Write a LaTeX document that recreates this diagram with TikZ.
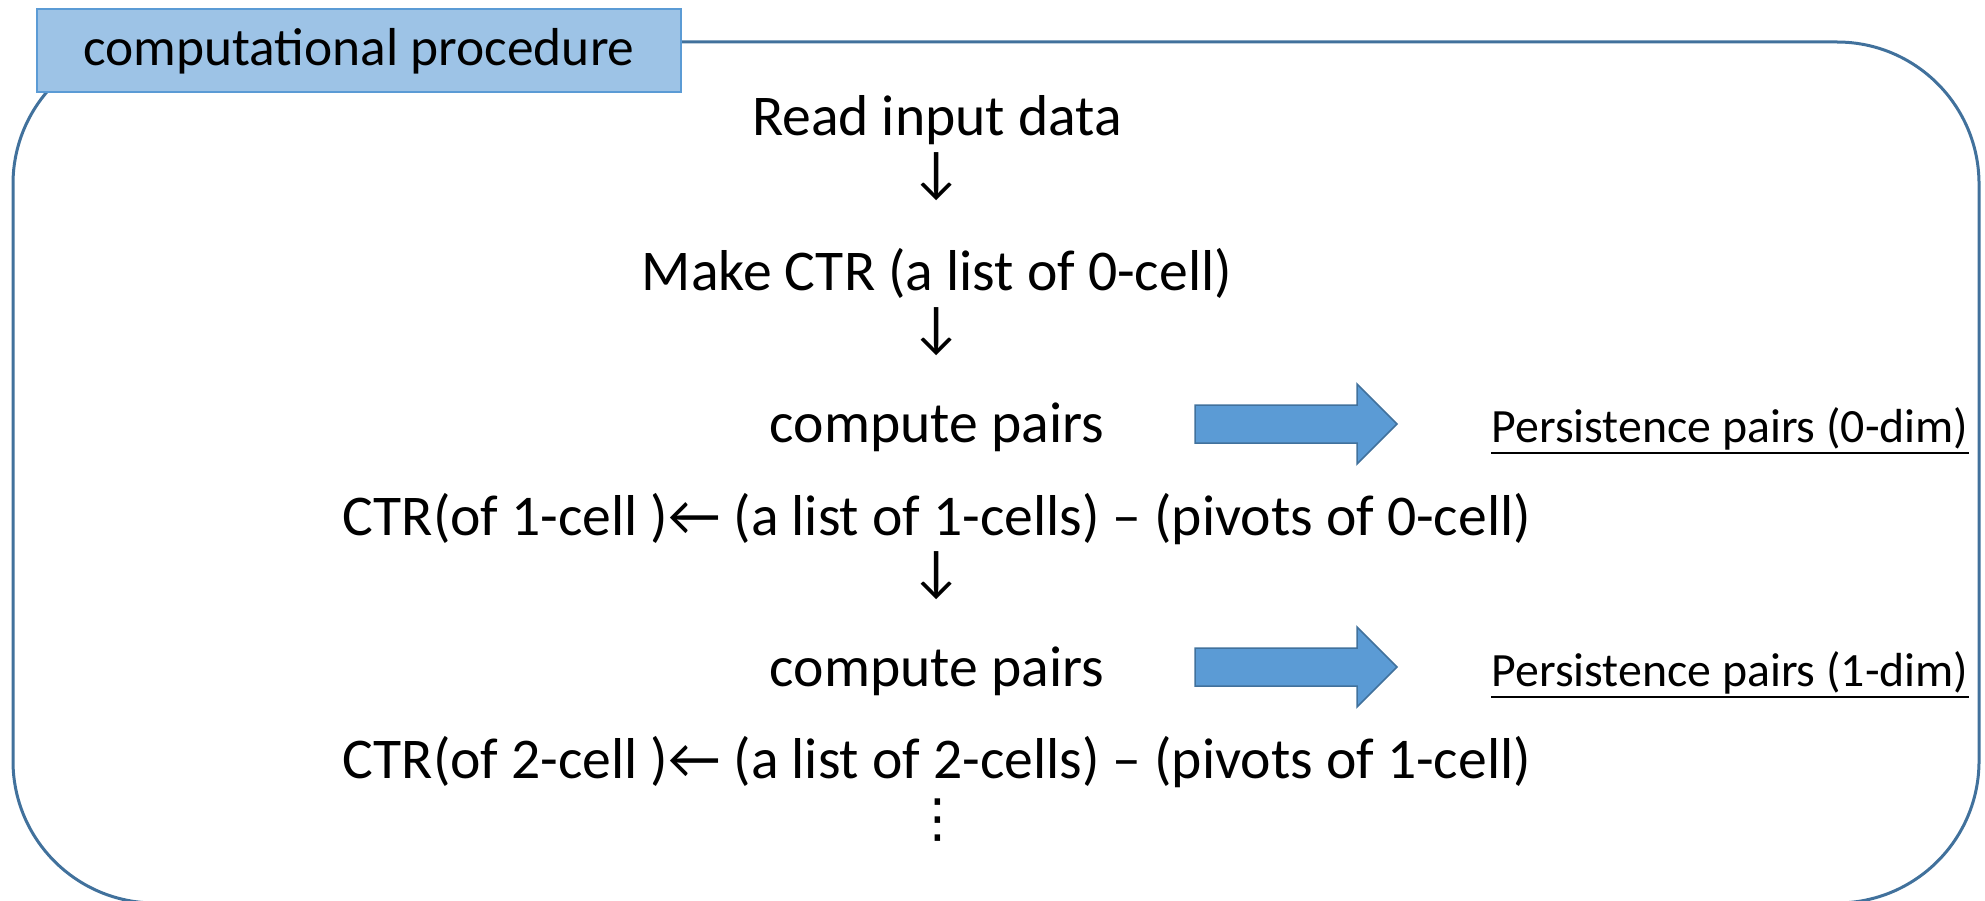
\documentclass[tikz,border=0pt]{standalone}
\usepackage{fontspec}
\setmainfont{Carlito}
\newfontfamily\symfont{DejaVu Sans}
\usetikzlibrary{positioning}
\definecolor{frameblue}{HTML}{41719C}
\definecolor{titlefill}{HTML}{9DC3E6}
\definecolor{titleline}{HTML}{5B9BD5}
\definecolor{arrowfill}{HTML}{5B9BD5}
\tikzset{
  frame/.style={draw=frameblue, line width=0.3mm, rounded corners=14.2mm},
  titlebox/.style={draw=titleline, fill=titlefill, line width=0.2mm,
    minimum width=64.4mm, minimum height=8.3mm, inner sep=0pt,
    font=\fontsize{15.2}{18}\selectfont},
  stepline/.style={anchor=base, inner sep=0pt, font=\fontsize{16.4}{20}\selectfont},
  downmark/.style={inner sep=0pt, font=\fontsize{16.4}{20}\selectfont},
  result/.style={anchor=base west, inner sep=0pt, font=\fontsize{13.6}{16}\selectfont},
  underbar/.style={line width=0.25mm},
  blockarrow/.style={fill=arrowfill, draw=frameblue, line width=0.15mm},
}
\begin{document}
\begin{tikzpicture}[x=0.1mm, y=-0.1mm]
  \useasboundingbox (0,0) rectangle (1985,900);
  \draw[frame] (13,42) rectangle (1979,903);
  \node[titlebox] (title) at (359,51) {computational procedure};
  % main column
  \node[stepline] (read) at (937,136) {Read input data};
  \node[downmark] (d1) at (937,177) {↓};
  \node[stepline] (make) at (937,290) {Make CTR (a list of 0-cell)};
  \node[downmark] (d2) at (937,332) {↓};
  \node[stepline] (cp0) at (937,442) {compute pairs};
  \node[stepline] (ctr1) at (937,535) {CTR(of 1-cell )← (a list of 1-cells) – (pivots of 0-cell)};
  \node[downmark] (d3) at (937,576) {↓};
  \node[stepline] (cp1) at (937,686) {compute pairs};
  \node[stepline] (ctr2) at (937,778) {CTR(of 2-cell )← (a list of 2-cells) – (pivots of 1-cell)};
  \node[downmark, font=\fontsize{15}{18}\symfont] (dots) at (938,820) {⋮};
  % results
  \node[result] (pp0) at (1491,442) {Persistence pairs (0-dim)};
  \node[result] (pp1) at (1491,686) {Persistence pairs (1-dim)};
  \draw[underbar] ([yshift=-1.1mm]pp0.base west) -- ([yshift=-1.1mm]pp0.base east);
  \draw[underbar] ([yshift=-1.1mm]pp1.base west) -- ([yshift=-1.1mm]pp1.base east);
  \coordinate (a0) at (1195,424);
  \coordinate (a1) at (1195,667);
  \filldraw[blockarrow] (a0) ++(0,-19) -- ++(162,0) -- ++(0,-21) -- ++(40,40)
    -- ++(-40,40) -- ++(0,-21) -- ++(-162,0) -- cycle;
  \filldraw[blockarrow] (a1) ++(0,-19) -- ++(162,0) -- ++(0,-21) -- ++(40,40)
    -- ++(-40,40) -- ++(0,-21) -- ++(-162,0) -- cycle;
\end{tikzpicture}
\end{document}
